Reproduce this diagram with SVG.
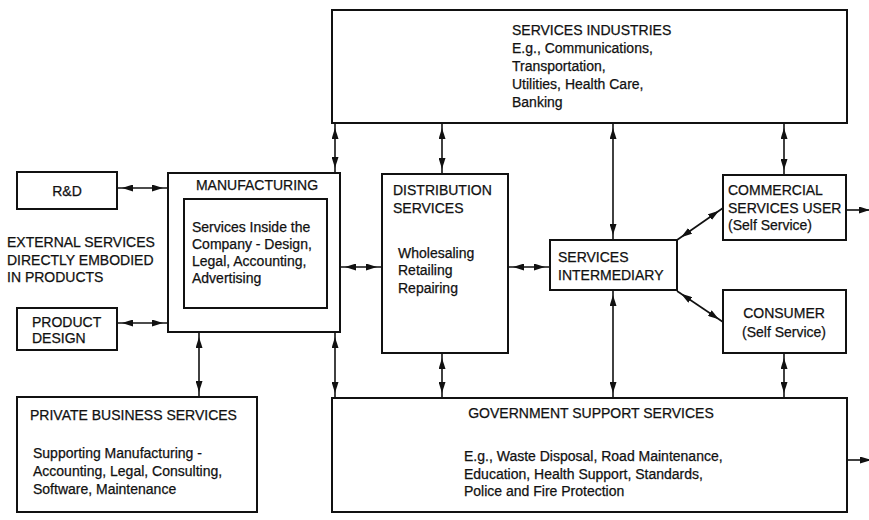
<svg xmlns="http://www.w3.org/2000/svg" width="869" height="520" viewBox="0 0 869 520">
  <style>
    .box { fill: #fff; stroke: #111; stroke-width: 2; }
    .t { font-family: "Liberation Sans", Arial, sans-serif; font-size: 14px; fill: #111; stroke: #111; stroke-width: 0.25; }
    .c { text-anchor: middle; }
    .wire { stroke: #111; stroke-width: 1.6; fill: none; }
    .two { marker-start: url(#head); marker-end: url(#head); }
    .one { marker-end: url(#tip); }
  </style>
  <defs>
    <!-- arrowhead set back a few px from the line end -->
    <marker id="head" markerUnits="userSpaceOnUse" markerWidth="11" markerHeight="7" refX="16" refY="3.5" orient="auto-start-reverse">
      <path d="M0,0 L11,3.5 L0,7 z" fill="#111"/>
    </marker>
    <marker id="tip" markerUnits="userSpaceOnUse" markerWidth="11" markerHeight="7" refX="16" refY="3.5" orient="auto">
      <path d="M0,0 L11,3.5 L0,7 z" fill="#111"/>
    </marker>
  </defs>
  <rect width="869" height="520" fill="#fff"/>

  <g id="connectors">
    <line class="wire two" x1="117" y1="188" x2="168" y2="188"/>
    <line class="wire two" x1="117" y1="323" x2="168" y2="323"/>
    <line class="wire two" x1="335" y1="123" x2="335" y2="173"/>
    <line class="wire two" x1="442" y1="123" x2="442" y2="174"/>
    <line class="wire two" x1="613" y1="123" x2="613" y2="240"/>
    <line class="wire two" x1="784" y1="123" x2="784" y2="175"/>
    <line class="wire two" x1="340" y1="267" x2="382" y2="267"/>
    <line class="wire two" x1="508" y1="267" x2="550" y2="267"/>
    <line class="wire two" x1="677" y1="240" x2="723" y2="208"/>
    <line class="wire two" x1="677" y1="291" x2="723" y2="322"/>
    <line class="wire one" x1="846" y1="210" x2="875" y2="210"/>
    <line class="wire two" x1="199" y1="332" x2="199" y2="397"/>
    <line class="wire two" x1="335" y1="332" x2="335" y2="398"/>
    <line class="wire two" x1="442" y1="353" x2="442" y2="398"/>
    <line class="wire two" x1="613" y1="290" x2="613" y2="398"/>
    <line class="wire two" x1="784" y1="353" x2="784" y2="398"/>
    <line class="wire one" x1="847" y1="460" x2="876" y2="460"/>
  </g>

  <g id="services-industries">
    <rect class="box" x="332" y="10" width="515" height="113"/>
    <text class="t" x="512" y="35">SERVICES INDUSTRIES</text>
    <text class="t" x="512" y="53">E.g., Communications,</text>
    <text class="t" x="512" y="71">Transportation,</text>
    <text class="t" x="512" y="89">Utilities, Health Care,</text>
    <text class="t" x="512" y="107">Banking</text>
  </g>

  <g id="rnd">
    <rect class="box" x="17" y="172" width="100" height="37"/>
    <text class="t c" x="67" y="196">R&amp;D</text>
  </g>

  <g id="external-label">
    <text class="t" x="7" y="247">EXTERNAL SERVICES</text>
    <text class="t" x="7" y="265">DIRECTLY EMBODIED</text>
    <text class="t" x="7" y="282">IN PRODUCTS</text>
  </g>

  <g id="product-design">
    <rect class="box" x="17" y="308" width="100" height="42"/>
    <text class="t" x="32" y="327">PRODUCT</text>
    <text class="t" x="32" y="343">DESIGN</text>
  </g>

  <g id="manufacturing">
    <rect class="box" x="168" y="173" width="172" height="159"/>
    <text class="t c" x="257" y="190">MANUFACTURING</text>
    <rect class="box" x="184" y="199" width="143" height="109"/>
    <text class="t" x="192" y="232">Services Inside the</text>
    <text class="t" x="192" y="249">Company - Design,</text>
    <text class="t" x="192" y="266">Legal, Accounting,</text>
    <text class="t" x="192" y="283">Advertising</text>
  </g>

  <g id="distribution">
    <rect class="box" x="382" y="174" width="126" height="179"/>
    <text class="t" x="393" y="195">DISTRIBUTION</text>
    <text class="t" x="393" y="213">SERVICES</text>
    <text class="t" x="398" y="258">Wholesaling</text>
    <text class="t" x="398" y="275">Retailing</text>
    <text class="t" x="398" y="293">Repairing</text>
  </g>

  <g id="intermediary">
    <rect class="box" x="550" y="240" width="127" height="50"/>
    <text class="t" x="558" y="262">SERVICES</text>
    <text class="t" x="558" y="280">INTERMEDIARY</text>
  </g>

  <g id="commercial-user">
    <rect class="box" x="723" y="175" width="123" height="65"/>
    <text class="t" x="728" y="195">COMMERCIAL</text>
    <text class="t" x="728" y="213">SERVICES USER</text>
    <text class="t" x="728" y="230">(Self Service)</text>
  </g>

  <g id="consumer">
    <rect class="box" x="723" y="290" width="123" height="63"/>
    <text class="t c" x="784" y="318">CONSUMER</text>
    <text class="t c" x="784" y="337">(Self Service)</text>
  </g>

  <g id="private-business">
    <rect class="box" x="17" y="397" width="240" height="115"/>
    <text class="t" x="30" y="420">PRIVATE BUSINESS SERVICES</text>
    <text class="t" x="33" y="458">Supporting Manufacturing -</text>
    <text class="t" x="33" y="476">Accounting, Legal, Consulting,</text>
    <text class="t" x="33" y="494">Software, Maintenance</text>
  </g>

  <g id="government">
    <rect class="box" x="332" y="398" width="515" height="114"/>
    <text class="t c" x="591" y="418">GOVERNMENT SUPPORT SERVICES</text>
    <text class="t" x="464" y="461">E.g., Waste Disposal, Road Maintenance,</text>
    <text class="t" x="464" y="479">Education, Health Support, Standards,</text>
    <text class="t" x="464" y="496">Police and Fire Protection</text>
  </g>
</svg>
